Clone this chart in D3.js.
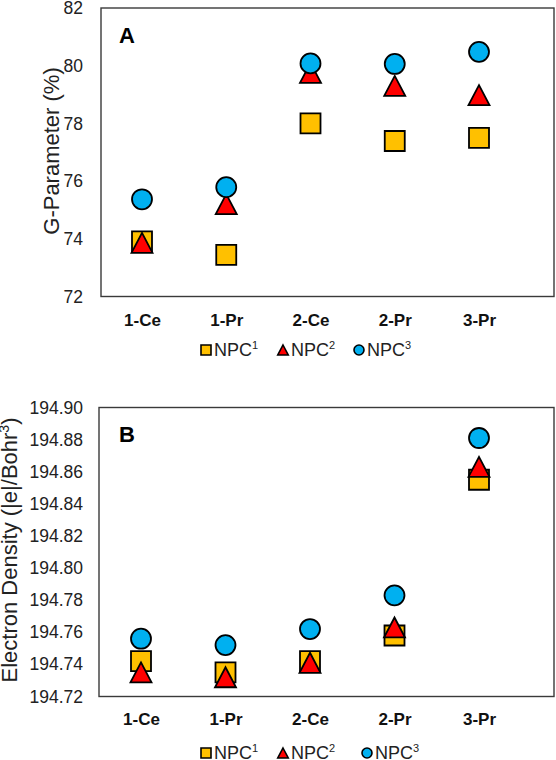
<!DOCTYPE html>
<html>
<head>
<meta charset="utf-8">
<script src="https://cdn.jsdelivr.net/npm/d3@7"></script>
<style>
  body { margin: 0; background: #fff; }
  svg { font-family: "Liberation Sans", Arial, sans-serif; }
</style>
</head>
<body>
<div id="container"></div>
<script>
/* CONSTANTS AND GLOBALS */
const width = 556;
const height = 760;

/* DATA */
const categories = ["1-Ce", "1-Pr", "2-Ce", "2-Pr", "3-Pr"];
const seriesNames = ["NPC", "NPC", "NPC"];
const seriesSup = ["1", "2", "3"];

// panel A - G-Parameter (%)
const gNPC1 = [73.91, 73.44, 78.0, 77.39, 77.5];
const gNPC2 = [73.86, 75.2, 79.75, 79.3, 78.98];
const gNPC3 = [75.37, 75.79, 80.08, 80.06, 80.48];
const gTicks = [72, 74, 76, 78, 80, 82];

// panel B - Electron Density
const eNPC1 = [194.742, 194.735, 194.742, 194.758, 194.855];
const eNPC2 = [194.735, 194.732, 194.741, 194.763, 194.863];
const eNPC3 = [194.756, 194.752, 194.762, 194.783, 194.881];
const eTicks = [194.72, 194.74, 194.76, 194.78, 194.80, 194.82, 194.84, 194.86, 194.88, 194.90];

const colors = ["#FFC000", "#FF0000", "#00B0F0"];

// marker shapes (centered on the bounding box like Excel)
function markerPath(i, s) {
  const h = s / 2;
  if (i === 0) return `M${-h},${-h}H${h}V${h}H${-h}Z`;
  if (i === 1) return `M0,${-h}L${h * 1.05},${h}H${-h * 1.05}Z`;
  return `M${-h},0A${h},${h} 0 1,1 ${h},0A${h},${h} 0 1,1 ${-h},0Z`;
}

const svg = d3.select("#container")
  .append("svg")
  .attr("width", width)
  .attr("height", height);

function drawPanel(opt) {
  const { series, ticks, fmt, left, top, bottom, right, xRange, label, labelY,
          title, titleX, titleY, catPad, legendY, legendX } = opt;

  const xScale = d3.scalePoint()
    .domain(categories)
    .range(xRange);

  const yScale = d3.scaleLinear()
    .domain([ticks[0], ticks[ticks.length - 1]])
    .range([bottom, top]);

  // plot frame
  svg.append("rect")
    .attr("x", left)
    .attr("y", top)
    .attr("width", right - left)
    .attr("height", bottom - top)
    .attr("fill", "none")
    .attr("stroke", "#3a3a3a")
    .attr("stroke-width", 1.4);

  // y axis labels
  const yAxis = d3.axisLeft(yScale)
    .tickValues(ticks)
    .tickFormat(fmt)
    .tickSize(0)
    .tickPadding(left - 83);
  const gy = svg.append("g")
    .attr("transform", `translate(${left},0)`)
    .call(yAxis);
  gy.select(".domain").remove();
  gy.selectAll("text")
    .attr("font-family", null)
    .attr("font-size", 17.5)
    .attr("fill", "#222");

  // x axis labels
  const xAxis = d3.axisBottom(xScale)
    .tickSize(0)
    .tickPadding(catPad);
  const gx = svg.append("g")
    .attr("transform", `translate(0,${bottom})`)
    .call(xAxis);
  gx.select(".domain").remove();
  gx.selectAll("text")
    .attr("font-family", null)
    .attr("font-size", 17)
    .attr("font-weight", "bold")
    .attr("fill", "#111");

  // markers: squares, then triangles, then circles on top
  series.forEach((vals, i) => {
    svg.append("g")
      .selectAll("path")
      .data(vals)
      .join("path")
      .attr("transform", (d, j) => `translate(${xScale(categories[j])},${yScale(d)})`)
      .attr("d", markerPath(i, 20))
      .attr("fill", colors[i])
      .attr("stroke", "#000")
      .attr("stroke-width", 1.8);
  });

  // panel letter
  svg.append("text")
    .attr("x", 119)
    .attr("y", labelY)
    .attr("font-size", 22)
    .attr("font-weight", "bold")
    .text(label);

  // y title
  const t = svg.append("text")
    .attr("transform", `translate(${titleX},${titleY}) rotate(-90)`)
    .attr("text-anchor", "middle")
    .attr("font-size", 22)
    .attr("fill", "#222");
  t.append("tspan").text(title[0]);
  if (title[1]) {
    t.append("tspan").attr("dy", -8).attr("font-size", 14).text(title[1]);
    t.append("tspan").attr("dy", 8).text(title[2]);
  }

  // legend
  seriesNames.forEach((name, i) => {
    const lx = legendX[i];
    svg.append("path")
      .attr("transform", `translate(${lx},${legendY - 6})`)
      .attr("d", markerPath(i, 10))
      .attr("fill", colors[i])
      .attr("stroke", "#000")
      .attr("stroke-width", 1.6);
    const lt = svg.append("text")
      .attr("x", lx + 8)
      .attr("y", legendY)
      .attr("font-size", 18)
      .attr("fill", "#222");
    lt.append("tspan").text(name);
    lt.append("tspan").attr("dy", -7).attr("font-size", 11).text(seriesSup[i]);
  });
}

drawPanel({
  series: [gNPC1, gNPC2, gNPC3],
  ticks: gTicks,
  fmt: d3.format("d"),
  left: 101, right: 554, top: 8, bottom: 296.5,
  xRange: [142, 479],
  label: "A", labelY: 43,
  title: ["G-Parameter (%)"], titleX: 59, titleY: 151,
  catPad: 17.5,
  legendY: 356,
  legendX: [206, 283, 359]
});

drawPanel({
  series: [eNPC1, eNPC2, eNPC3],
  ticks: eTicks,
  fmt: d3.format(".2f"),
  left: 99, right: 554, top: 407.5, bottom: 696.5,
  xRange: [141, 479],
  label: "B", labelY: 442,
  title: ["Electron Density (|e|/Bohr", "3", ")"], titleX: 17, titleY: 550,
  catPad: 16.5,
  legendY: 759,
  legendX: [206, 283, 367]
});
</script>
</body>
</html>
